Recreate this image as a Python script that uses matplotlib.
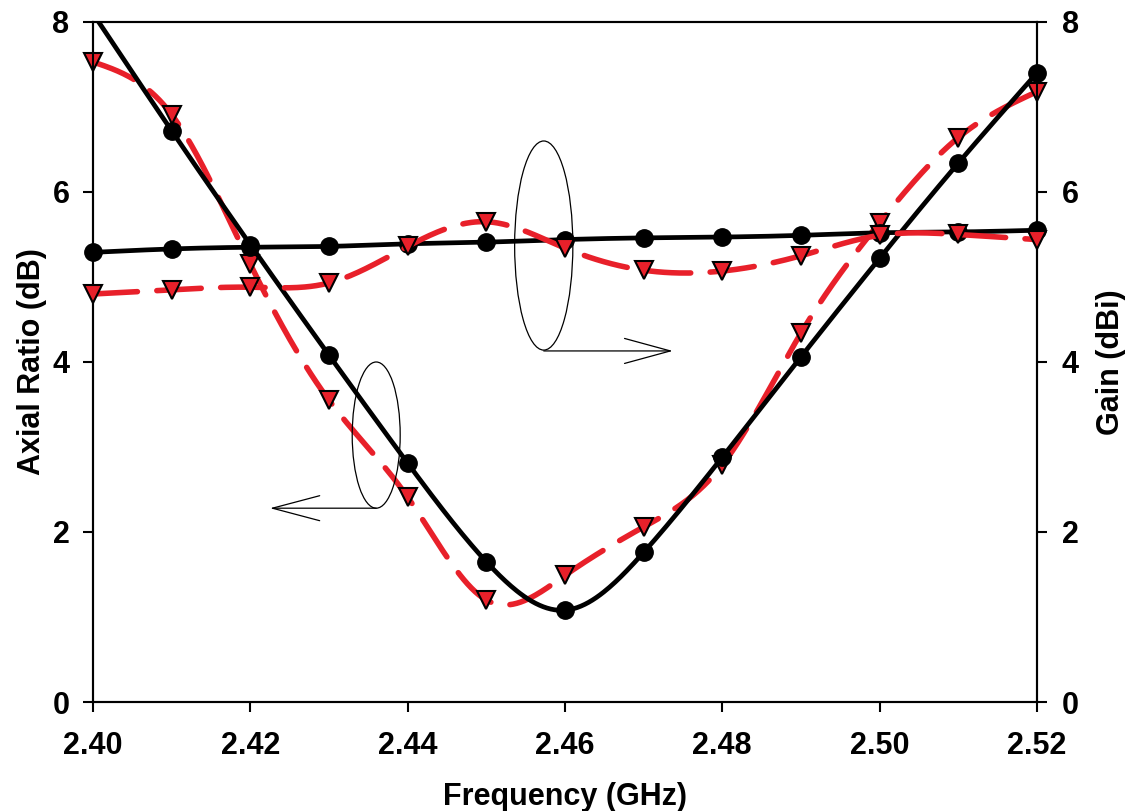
import numpy as np
import matplotlib
matplotlib.use("Agg")
import matplotlib.pyplot as plt
from matplotlib.patches import Ellipse

plt.rcParams['font.family'] = ['Liberation Sans', 'DejaVu Sans']
plt.rcParams['font.weight'] = 'bold'

# data
freq = [2.40, 2.41, 2.42, 2.43, 2.44, 2.45, 2.46, 2.47, 2.48, 2.49, 2.50, 2.51, 2.52]
ar_black = [8.10, 6.72, 5.38, 4.08, 2.81, 1.65, 1.08, 1.76, 2.88, 4.06, 5.22, 6.34, 7.40]
ar_red = [7.53, 6.91, 5.15, 3.55, 2.41, 1.20, 1.49, 2.06, 2.79, 4.34, 5.64, 6.64, 7.18]
gain_black = [5.29, 5.33, 5.35, 5.36, 5.39, 5.41, 5.44, 5.46, 5.47, 5.49, 5.52, 5.53, 5.55]
gain_red = [4.80, 4.85, 4.88, 4.93, 5.36, 5.65, 5.34, 5.08, 5.07, 5.25, 5.49, 5.50, 5.44]

RED = '#e8202a'


def smooth(x, y, n=500):
    # natural cubic spline, only used to draw the curve through the points
    x = np.asarray(x, float)
    y = np.asarray(y, float)
    h = np.diff(x)
    m = len(x)
    A = np.zeros((m, m))
    r = np.zeros(m)
    A[0, 0] = A[-1, -1] = 1
    for i in range(1, m - 1):
        A[i, i - 1] = h[i - 1]
        A[i, i] = 2 * (h[i - 1] + h[i])
        A[i, i + 1] = h[i]
        r[i] = 3 * ((y[i + 1] - y[i]) / h[i] - (y[i] - y[i - 1]) / h[i - 1])
    c = np.linalg.solve(A, r)
    b = (y[1:] - y[:-1]) / h - h * (2 * c[:-1] + c[1:]) / 3
    d = (c[1:] - c[:-1]) / (3 * h)
    xs = np.linspace(x[0], x[-1], n)
    k = np.clip(np.searchsorted(x, xs) - 1, 0, m - 2)
    dx = xs - x[k]
    return xs, y[k] + b[k] * dx + c[k] * dx ** 2 + d[k] * dx ** 3


fig = plt.figure(figsize=(11.4, 8.11), dpi=100)
ax = fig.add_axes([0.0816, 0.1344, 0.828, 0.8385])
ax2 = ax.twinx()

tri = dict(ls='none', marker='v', ms=12.5, mfc=RED, mec='black', mew=1.5, clip_on=False)
dot = dict(ls='none', marker='o', ms=12.5, color='black', clip_on=False)

# axial ratio (left axis)
xs, ys = smooth(freq, ar_red)
ax.plot(xs, ys, color=RED, lw=4, ls=(0, (8, 3.5)), dash_capstyle='round', zorder=2)
ax.plot(freq, ar_red, zorder=3, **tri)
xs, ys = smooth(freq, ar_black)
ax.plot(xs, ys, color='black', lw=3.4, zorder=4)
# first point is off the top of the scale, only the line shows there
ax.plot(freq[1:], ar_black[1:], zorder=5, **dot)

# gain (right axis)
xs, ys = smooth(freq, gain_black)
ax2.plot(xs, ys, color='black', lw=3.4, zorder=2)
ax2.plot(freq, gain_black, zorder=3, **dot)
xs, ys = smooth(freq, gain_red)
ax2.plot(xs, ys, color=RED, lw=4, ls=(0, (8, 3.5)), dash_capstyle='round', zorder=4)
ax2.plot(freq, gain_red, zorder=5, **tri)

for a in (ax, ax2):
    a.set_xlim(2.40, 2.52)
    a.set_ylim(0, 8)
    a.set_yticks([0, 2, 4, 6, 8])
    for s in a.spines.values():
        s.set_linewidth(1.5)
ax.set_xticks(freq[::2])
ax.set_xticklabels(['%.2f' % f for f in freq[::2]])
ax.tick_params(axis='x', direction='out', length=7, width=1.5, labelsize=22, pad=14)
ax.tick_params(axis='y', direction='out', length=7, width=1.5, labelsize=22, pad=10)
ax2.tick_params(axis='y', direction='out', length=7, width=1.5, labelsize=22, pad=11)

ax.set_xlabel('Frequency (GHz)', fontsize=22, fontweight='bold', labelpad=15)
ax.set_ylabel('Axial Ratio (dB)', fontsize=22, fontweight='bold', labelpad=4)
ax2.set_ylabel('Gain (dBi)', fontsize=22, fontweight='bold', labelpad=12)

# annotation ellipses and arrows
ax2.add_patch(Ellipse((2.4573, 5.37), 0.0074, 2.46, fill=False, ec='black', lw=0.9, zorder=6))
ax2.annotate('', xy=(2.4737, 4.13), xytext=(2.4573, 4.13),
             arrowprops=dict(arrowstyle='->,head_length=33,head_width=9', mutation_scale=1,
                             color='black', lw=0.9, shrinkA=0, shrinkB=0))
ax2.add_patch(Ellipse((2.4360, 3.14), 0.0061, 1.72, fill=False, ec='black', lw=0.9, zorder=6))
ax2.annotate('', xy=(2.4225, 2.28), xytext=(2.4360, 2.28),
             arrowprops=dict(arrowstyle='->,head_length=34,head_width=9', mutation_scale=1,
                             color='black', lw=0.9, shrinkA=0, shrinkB=0))

fig.savefig('out.png', dpi=100)
